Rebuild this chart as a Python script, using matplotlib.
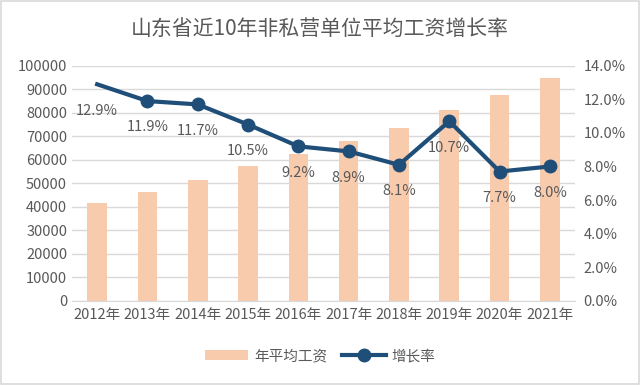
import matplotlib
matplotlib.use("Agg")
import matplotlib.pyplot as plt
from matplotlib.patches import Rectangle

plt.rcParams['font.family'] = ['Noto Sans CJK SC', 'DejaVu Sans']

years = ['2012年', '2013年', '2014年', '2015年', '2016年', '2017年', '2018年', '2019年', '2020年', '2021年']
wages = [41500, 46300, 51600, 57200, 62400, 67900, 73500, 81400, 87600, 94700]
growth = [12.9, 11.9, 11.7, 10.5, 9.2, 8.9, 8.1, 10.7, 7.7, 8.0]
labels = ['12.9%', '11.9%', '11.7%', '10.5%', '9.2%', '8.9%', '8.1%', '10.7%', '7.7%', '8.0%']

bar_c = '#F8CBAD'
line_c = '#1F4E79'
txt_c = '#595959'

fig = plt.figure(figsize=(6.4, 3.85), dpi=100)
fig.patches.append(Rectangle((0.002, 0.003), 0.996, 0.994, transform=fig.transFigure,
                             fill=False, edgecolor='#D9D9D9', lw=1.2))
ax = fig.add_axes([0.1125, 0.219, 0.786, 0.61])
x = list(range(len(years)))
bars = ax.bar(x, wages, width=0.39, color=bar_c, zorder=2, label='年平均工资')
ax.set_ylim(0, 100000)
ax.set_yticks(range(0, 100001, 10000))
ax.set_xlim(-0.5, len(years) - 0.5)
ax.set_xticks(x)
ax.set_xticklabels(years)
ax.grid(axis='y', color='#D9D9D9', lw=1, zorder=0)
for s in ['top', 'right', 'left']:
    ax.spines[s].set_visible(False)
ax.spines['bottom'].set_color('#D9D9D9')
ax.tick_params(length=0, labelsize=10.5, colors=txt_c)
ax.tick_params(axis='x', pad=5)

ax2 = ax.twinx()
ln, = ax2.plot(x, growth, color=line_c, lw=3, marker='o', ms=9, markevery=list(range(1, 10)),
               zorder=3, label='增长率')
ax2.set_ylim(0, 14)
ax2.set_yticks([0, 2, 4, 6, 8, 10, 12, 14])
ax2.set_yticklabels([f'{v:.1f}%' for v in [0, 2, 4, 6, 8, 10, 12, 14]])
for s in ax2.spines.values():
    s.set_visible(False)
ax2.tick_params(length=0, labelsize=10.5, colors=txt_c, pad=6)
for xi, g, lab in zip(x, growth, labels):
    ax2.annotate(lab, (xi, g), xytext=(0, -19), textcoords='offset points',
                 ha='center', va='center', fontsize=10.5, color=txt_c)

fig.text(0.5, 0.925, '山东省近10年非私营单位平均工资增长率', ha='center', va='center',
         fontsize=15, color=txt_c)
fig.legend(handles=[bars, ln], loc='center', bbox_to_anchor=(0.5, 0.075), ncol=2,
           frameon=False, fontsize=10.5, labelcolor=txt_c, handlelength=3, columnspacing=1.0,
           handletextpad=0.4)
fig.savefig('out.png', dpi=100)
